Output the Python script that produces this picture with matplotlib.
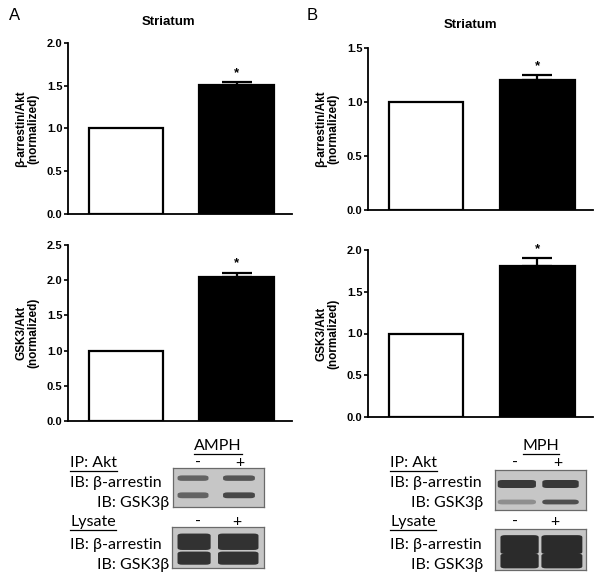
import matplotlib.pyplot as plt
from matplotlib.patches import FancyBboxPatch
from matplotlib.lines import Line2D

plt.rcParams['font.family'] = ['Liberation Sans', 'DejaVu Sans']

# bar data (control, drug)
groups = ['-', '+']
a_arr = [1.0, 1.51]
a_arr_err = [0.0, 0.03]
a_gsk = [1.0, 2.04]
a_gsk_err = [0.0, 0.06]
b_arr = [1.0, 1.20]
b_arr_err = [0.0, 0.05]
b_gsk = [1.0, 1.81]
b_gsk_err = [0.0, 0.09]

# blot band intensities (0 = none, 1 = saturated), lanes: -, +
a_ip_arr = [0.6, 0.7]
a_ip_gsk = [0.6, 0.8]
a_lys_arr = [0.95, 0.95]
a_lys_gsk = [0.95, 0.95]
b_ip_arr = [0.9, 0.9]
b_ip_gsk = [0.3, 0.75]
b_lys_arr = [1.0, 1.0]
b_lys_gsk = [1.0, 1.0]

W, H = 600, 581
fig = plt.figure(figsize=(6, 5.81), dpi=100)


def ax_px(x0, x1, y0, y1):
    return fig.add_axes([x0 / W, 1 - y1 / H, (x1 - x0) / W, (y1 - y0) / H])


def bar_panel(ax, vals, errs, ymax, step, ylabel):
    ax.bar([0, 1], vals, width=0.67, color=['white', 'black'],
           edgecolor='black', linewidth=1.6, zorder=2)
    ax.errorbar([1], [vals[1]], yerr=[[0], [errs[1]]], fmt='none',
                ecolor='black', elinewidth=1.6, capsize=11, capthick=1.6, zorder=3)
    ax.text(1, vals[1] + errs[1] + ymax * 0.02, '*', ha='center', va='bottom',
            fontsize=9.5, fontweight='bold')
    ax.set_xlim(-0.52, 1.5)
    ax.set_ylim(0, ymax)
    ticks = [i * step for i in range(int(round(ymax / step)) + 1)]
    ax.set_yticks(ticks)
    ax.set_yticklabels(['%.1f' % t for t in ticks], fontsize=8, fontweight='bold')
    ax.set_xticks([])
    for s in ['top', 'right']:
        ax.spines[s].set_visible(False)
    ax.spines['left'].set_linewidth(1.3)
    ax.spines['bottom'].set_linewidth(1.3)
    ax.tick_params(axis='y', direction='out', length=3, width=1.2, pad=1)
    ax.set_ylabel(ylabel, fontsize=8.5, fontweight='bold', labelpad=5,
                  linespacing=1.05)


ax1 = ax_px(68, 292, 43, 214)
bar_panel(ax1, a_arr, a_arr_err, 2.0, 0.5, 'β-arrestin/Akt\n(normalized)')
ax2 = ax_px(368, 593, 48, 210)
bar_panel(ax2, b_arr, b_arr_err, 1.5, 0.5, 'β-arrestin/Akt\n(normalized)')
ax3 = ax_px(68, 292, 245, 421)
bar_panel(ax3, a_gsk, a_gsk_err, 2.5, 0.5, 'GSK3/Akt\n(normalized)')
ax4 = ax_px(368, 593, 250, 417)
bar_panel(ax4, b_gsk, b_gsk_err, 2.0, 0.5, 'GSK3/Akt\n(normalized)')

fig.text(168 / W, 1 - 22 / H, 'Striatum', ha='center', va='center',
         fontsize=9.5, fontweight='bold')
fig.text(470 / W, 1 - 25 / H, 'Striatum', ha='center', va='center',
         fontsize=9.5, fontweight='bold')
fig.text(15 / W, 1 - 15 / H, 'A', ha='center', va='center', fontsize=12)
fig.text(312 / W, 1 - 15 / H, 'B', ha='center', va='center', fontsize=12)


def band_color(v):
    g = 0.72 - 0.55 * v
    return (g, g, g)


def blot(ax, upper, lower, lanes, yu, hu, yl, hl):
    ax.set_facecolor('#c6c6c6')
    ax.set_xlim(0, 1)
    ax.set_ylim(0, 1)
    ax.set_xticks([])
    ax.set_yticks([])
    for s in ax.spines.values():
        s.set_color('#6a6a6a')
        s.set_linewidth(0.9)
    for vals, yc, h in [(upper, yu, hu), (lower, yl, hl)]:
        for v, (x0, x1) in zip(vals, lanes):
            if v <= 0:
                continue
            ax.add_patch(FancyBboxPatch((x0, yc - h / 2), x1 - x0, h,
                                        boxstyle='round,pad=0,rounding_size=0.05',
                                        facecolor=band_color(v), edgecolor='none',
                                        mutation_aspect=1))


blot(ax_px(173, 264, 468, 507), a_ip_arr, a_ip_gsk,
     [(0.05, 0.39), (0.55, 0.9)], 0.74, 0.14, 0.3, 0.15)
blot(ax_px(172, 264, 527, 568), a_lys_arr, a_lys_gsk,
     [(0.06, 0.42), (0.5, 0.94)], 0.64, 0.4, 0.24, 0.32)
blot(ax_px(495, 586, 470, 510), b_ip_arr, b_ip_gsk,
     [(0.03, 0.45), (0.52, 0.92)], 0.65, 0.2, 0.2, 0.12)
blot(ax_px(495, 586, 529, 570), b_lys_arr, b_lys_gsk,
     [(0.06, 0.48), (0.51, 0.96)], 0.62, 0.46, 0.22, 0.36)

bf = ['Lato', 'DejaVu Sans']


def label(x, y, s, ha='left', underline=False):
    t = fig.text(x / W, 1 - y / H, s, ha=ha, va='center', fontsize=11.5, family=bf)
    if underline:
        fig.canvas.draw()
        bb = t.get_window_extent()
        yy = bb.y0 / H - 1.0 / H
        fig.add_artist(Line2D([bb.x0 / W, bb.x1 / W], [yy, yy],
                              color='black', linewidth=0.9))


for off, drug, xl, xg in [(0, 'AMPH', 70, 97), (320, 'MPH', 390, 411)]:
    dx = 218 if off == 0 else 541
    label(dx, 446, drug, ha='center', underline=True)
    m1, p1 = (198, 240) if off == 0 else (515, 558)
    label(xl, 463, 'IP: Akt', underline=True)
    label(m1, 463, groups[0], ha='center')
    label(p1, 463, groups[1], ha='center')
    label(xl, 483, 'IB: β-arrestin')
    label(xg, 503, 'IB: GSK3β')
    label(xl, 522, 'Lysate', underline=True)
    label(m1, 522, groups[0], ha='center')
    label(p1 - 3, 522, groups[1], ha='center')
    label(xl, 545, 'IB: β-arrestin')
    label(xg, 565, 'IB: GSK3β')

fig.savefig('out.png', dpi=100)
